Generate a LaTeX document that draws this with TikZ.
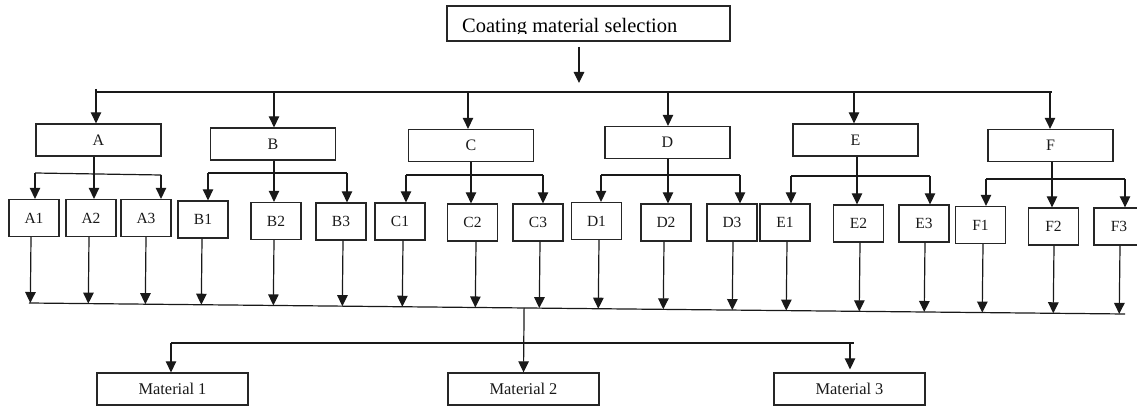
\documentclass[tikz,border=0pt]{standalone}
\usepackage{fontspec}
\setmainfont{Liberation Serif}
\usetikzlibrary{arrows.meta,calc}
\begin{document}
\begin{tikzpicture}[x=1pt,y=-1pt,
  box/.style={draw=black!85, line width=1.3pt, inner sep=0pt, text=black!90},
  big/.style={box, minimum width=125pt, minimum height=32pt, font=\fontsize{16}{16}\selectfont},
  sub/.style={box, minimum width=50pt, minimum height=37pt, font=\fontsize{15.5}{15.5}\selectfont},
  mat/.style={box, minimum width=151pt, minimum height=32pt, font=\fontsize{16.4}{16.4}\selectfont},
  ln/.style={line width=1.2pt, draw=black!90},
  arr/.style={ln, -{Triangle[width=10.5pt,length=11pt]}}]
\useasboundingbox (0,0) rectangle (1137,406);
% top
\node[box, minimum width=283pt, minimum height=35pt] (top) at (588.5,23.5) {};
\begin{scope}
  \clip (448,7) rectangle (729,34);
  \node[anchor=base west, inner sep=0pt, font=\fontsize{20.5}{20.5}\selectfont] (title) at (462,33) {Coating material selection};
\end{scope}
\coordinate (t1) at (579,47);
\coordinate (t2) at (579,83);
\draw[arr] (t1) -- (t2);
% main bus
\coordinate (busL) at (96,92);
\coordinate (busR) at (1052,92);
\draw[ln] ([yshift=3pt]busL) -- (busL) -- (busR);
% level 1
\foreach \n/\x/\y/\ax in {A/98.5/140/96, B/273/144/274, C/471/145.5/468, D/667.5/142.5/668, E/855.5/140/854, F/1050.5/145.5/1050}{
  \node[big] (\n) at (\x,\y) {\n};
  \coordinate (tp\n) at (\ax,92);
  \draw[arr] (tp\n) -- (tp\n |- \n.north);
}
% level 2 boxes
\foreach \n/\x/\y in {A1/34/218, A2/91/218, A3/146/218, B1/203/219.5, B2/276/221, B3/341/221.5,
  C1/400/221.5, C2/472.5/222.5, C3/538/222.5, D1/596.5/221, D2/666/222.5, D3/732/222.5,
  E1/785/222.5, E2/858.5/223.5, E3/924/223.5, F1/980.5/225, F2/1053.5/226.5, F3/1119/226.5}{
  \node[sub] (\n) at (\x,\y) {\n};
}
% sub buses
\foreach \n/\m/\l/\r/\y/\yr in {A/94/35/161/173/175, B/274/208/347/173/173, C/471/406/543/175/175,
  D/668/601/740/175/175, E/857/791/930/176/176, F/1052/986/1125/179/179}{
  \coordinate (m\n) at (\m,\y);
  \coordinate (l\n) at (\l,\y);
  \coordinate (r\n) at (\r,\yr);
  \draw[ln] (m\n |- \n.south) -- (m\n);
  \draw[ln] (l\n) -- (r\n);
  \draw[arr] (l\n) -- (l\n |- \n1.north);
  \draw[arr] (m\n) -- (m\n |- \n2.north);
  \draw[arr] (r\n) -- (r\n |- \n3.north);
}
% bottom line
\coordinate (L1) at (29,303);
\coordinate (L2) at (1125,314);
\draw[ln] (L1) -- (L2);
\foreach \n/\bx in {A1/31, A2/89, A3/146, B1/202, B2/274, B3/343, C1/403, C2/476, C3/540,
  D1/599, D2/664, D3/733, E1/787, E2/860, E3/925, F1/983, F2/1054, F3/1120}{
  \coordinate (b\n) at (\bx,0);
  \draw[arr] (b\n |- \n.south) -- ($(L1)!(b\n |- \n.south)!(L2)$);
}
% materials
\node[mat] (M1) at (172.5,389) {Material 1};
\node[mat] (M2) at (523.5,389) {Material 2};
\node[mat] (M3) at (849.5,389) {Material 3};
\coordinate (jn) at ($(L1)!(M2.north)!(L2)$);
\draw[arr] (jn) -- (M2.north);
\coordinate (hL) at (171,343);
\coordinate (hR) at (854,343);
\coordinate (h3) at (850,343);
\draw[ln] (hL) -- (hR);
\draw[arr] (hL) -- (hL |- M1.north);
\draw[arr] (h3) -- ([yshift=3pt]h3 |- M3.north);
\end{tikzpicture}
\end{document}
